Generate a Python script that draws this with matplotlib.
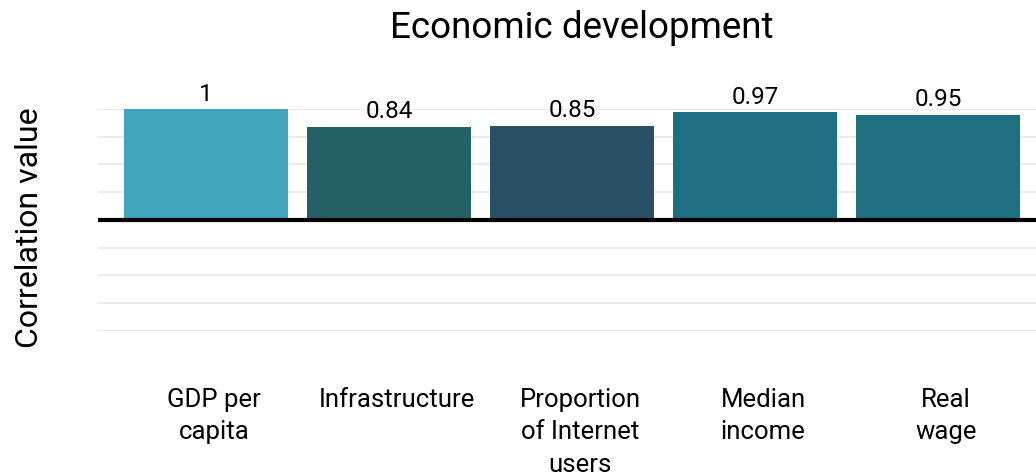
import numpy as np
import matplotlib.pyplot as plt
import matplotlib.transforms as mtransforms

plt.rcParams['font.family'] = ['Roboto', 'DejaVu Sans']

# data
categories = ["GDP per\ncapita", "Infrastructure", "Proportion\nof Internet\nusers",
              "Median\nincome", "Real\nwage"]
correlations = [1.0, 0.84, 0.85, 0.97, 0.95]
value_labels = ["1", "0.84", "0.85", "0.97", "0.95"]
bar_colors = ["#41a6bd", "#246166", "#2a5066", "#1e6f85", "#1f6f82"]

fig = plt.figure(figsize=(10.36, 4.77), dpi=100)
ax = fig.add_axes([0.0946, 0.304, 0.9054, 0.4654])

x = np.arange(len(categories))
ax.bar(x, correlations, width=0.9, color=bar_colors, zorder=2)

# bar value labels
for xi, v, lab in zip(x, correlations, value_labels):
    ax.text(xi, v + 0.04, lab, ha='center', va='bottom', fontsize=17.5,
            color='black', clip_on=False)

ax.set_xlim(-0.59, 4.535)
ax.set_ylim(-1.0, 1.0)

# grid lines
for g in np.arange(-1.0, 1.01, 0.25):
    ax.axhline(g, color='#ebebeb', lw=1.5, zorder=0)
ax.axhline(0, color='black', lw=3, zorder=3)

ax.set_xticks(x)
ax.set_xticklabels(categories, fontsize=18.5, linespacing=1.45, va='top')
ax.tick_params(axis='x', length=0, pad=40)
# labels sit a little right of the bar centres in the original
shift = mtransforms.ScaledTranslation(8 / 100, 0, fig.dpi_scale_trans)
for t in ax.get_xticklabels():
    t.set_transform(t.get_transform() + shift)
ax.set_yticks([])
for s in ax.spines.values():
    s.set_visible(False)

ax.set_ylabel("Correlation value", fontsize=23)
ax.yaxis.set_label_coords(-0.0576, 0.468)
fig.text(0.562, 0.941, "Economic development", ha='center', va='center', fontsize=26.5)

fig.savefig("out.png", dpi=100)
